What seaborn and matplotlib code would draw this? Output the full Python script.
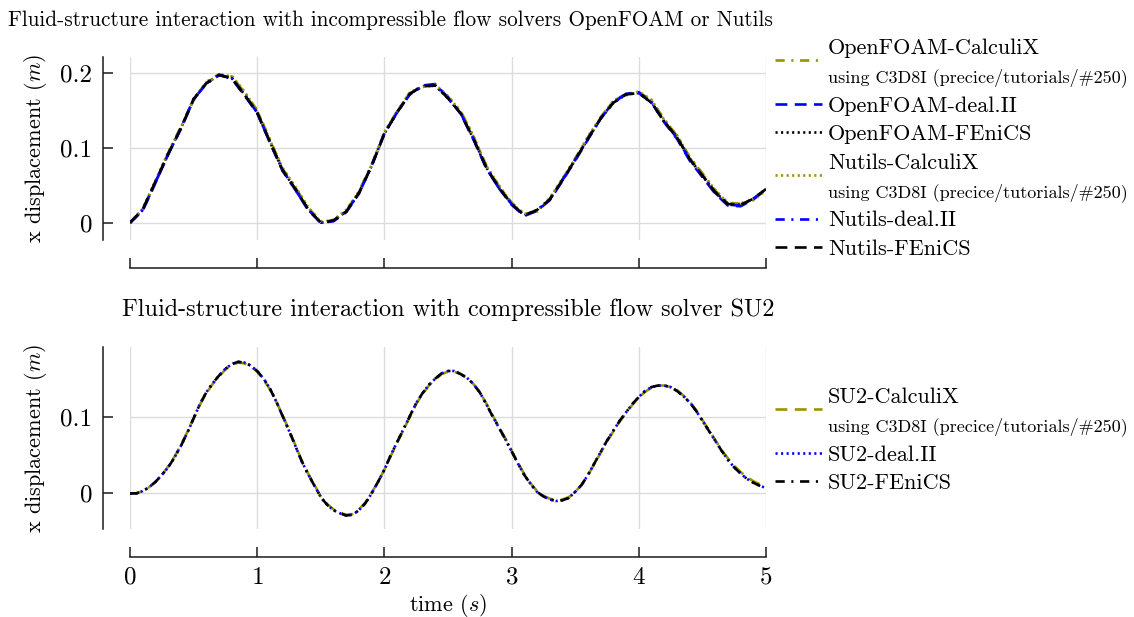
import numpy as np
import pandas as pd
import matplotlib
matplotlib.use("Agg")
import matplotlib.pyplot as plt
import matplotlib.transforms as mtransforms
from matplotlib.lines import Line2D
import seaborn as sns

sns.set_theme(style="ticks")
plt.rcParams['font.family'] = ['cmr10', 'DejaVu Serif']
plt.rcParams['mathtext.fontset'] = 'cm'
plt.rcParams['axes.unicode_minus'] = False
plt.rcParams['axes.formatter.use_mathtext'] = True

# ---------------- data ----------------
time_top = [round(0.1 * i, 2) for i in range(51)]
time_bot = [round(0.05 * i, 2) for i in range(101)]

of_calculix = [0.000, 0.017, 0.054, 0.093, 0.128, 0.163, 0.188, 0.198, 0.195, 0.174, 0.150,
               0.111, 0.072, 0.047, 0.020, 0.002, 0.003, 0.016, 0.042, 0.078, 0.120,
               0.149, 0.173, 0.183, 0.182, 0.168, 0.149, 0.115, 0.077, 0.049, 0.027,
               0.011, 0.016, 0.032, 0.058, 0.086, 0.114, 0.141, 0.162, 0.172, 0.174,
               0.163, 0.138, 0.116, 0.088, 0.066, 0.043, 0.027, 0.025, 0.031, 0.044]
of_dealii = [0.000, 0.016, 0.053, 0.091, 0.125, 0.164, 0.186, 0.197, 0.192, 0.170, 0.146,
             0.107, 0.069, 0.044, 0.017, 0.000, 0.002, 0.014, 0.039, 0.076, 0.119,
             0.148, 0.172, 0.183, 0.185, 0.167, 0.145, 0.111, 0.073, 0.046, 0.024,
             0.009, 0.016, 0.030, 0.056, 0.083, 0.111, 0.139, 0.161, 0.172, 0.174,
             0.161, 0.134, 0.112, 0.083, 0.061, 0.039, 0.023, 0.022, 0.031, 0.045]
of_fenics = [0.000, 0.018, 0.055, 0.092, 0.126, 0.165, 0.186, 0.197, 0.193, 0.171, 0.147,
             0.108, 0.070, 0.045, 0.018, 0.000, 0.003, 0.015, 0.040, 0.076, 0.119,
             0.147, 0.172, 0.182, 0.183, 0.166, 0.146, 0.112, 0.074, 0.047, 0.025,
             0.010, 0.017, 0.031, 0.057, 0.084, 0.112, 0.139, 0.160, 0.171, 0.173,
             0.160, 0.135, 0.114, 0.085, 0.063, 0.041, 0.025, 0.024, 0.032, 0.045]
nu_calculix = [0.000, 0.018, 0.056, 0.094, 0.127, 0.164, 0.187, 0.196, 0.196, 0.175, 0.149,
               0.110, 0.073, 0.048, 0.021, 0.001, 0.004, 0.017, 0.041, 0.077, 0.121,
               0.148, 0.174, 0.181, 0.184, 0.169, 0.148, 0.116, 0.076, 0.050, 0.026,
               0.012, 0.015, 0.033, 0.059, 0.085, 0.115, 0.140, 0.163, 0.170, 0.175,
               0.164, 0.137, 0.117, 0.087, 0.065, 0.044, 0.026, 0.026, 0.030, 0.043]
nu_dealii = [0.000, 0.017, 0.054, 0.091, 0.126, 0.165, 0.185, 0.197, 0.193, 0.170, 0.147,
             0.107, 0.070, 0.044, 0.018, 0.000, 0.003, 0.015, 0.039, 0.076, 0.119,
             0.147, 0.171, 0.182, 0.184, 0.166, 0.146, 0.112, 0.074, 0.046, 0.025,
             0.010, 0.016, 0.031, 0.057, 0.084, 0.112, 0.139, 0.160, 0.172, 0.173,
             0.160, 0.135, 0.113, 0.084, 0.062, 0.040, 0.024, 0.023, 0.032, 0.045]
nu_fenics = [0.000, 0.018, 0.055, 0.092, 0.126, 0.165, 0.186, 0.197, 0.193, 0.171, 0.147,
             0.108, 0.070, 0.045, 0.018, 0.000, 0.003, 0.015, 0.040, 0.076, 0.119,
             0.147, 0.172, 0.182, 0.183, 0.166, 0.146, 0.112, 0.074, 0.047, 0.025,
             0.010, 0.017, 0.031, 0.057, 0.084, 0.112, 0.139, 0.160, 0.171, 0.173,
             0.160, 0.135, 0.114, 0.085, 0.063, 0.041, 0.025, 0.024, 0.032, 0.045]

su2_calculix = [0.000, 0.000, 0.003, 0.008, 0.015, 0.024, 0.035, 0.048, 0.063, 0.080,
                0.098, 0.116, 0.131, 0.143, 0.153, 0.162, 0.168, 0.171, 0.170, 0.166,
                0.159, 0.149, 0.136, 0.120, 0.102, 0.083, 0.063, 0.043, 0.026, 0.011,
                -0.004, -0.014, -0.021, -0.025, -0.028, -0.027, -0.021, -0.012, 0.001, 0.015,
                0.031, 0.049, 0.066, 0.083, 0.100, 0.117, 0.130, 0.141, 0.149, 0.156,
                0.159, 0.159, 0.156, 0.151, 0.143, 0.132, 0.118, 0.102, 0.087, 0.072,
                0.056, 0.040, 0.025, 0.013, 0.003, -0.003, -0.007, -0.009, -0.008, -0.005,
                0.002, 0.011, 0.024, 0.038, 0.053, 0.068, 0.081, 0.094, 0.105, 0.116,
                0.125, 0.133, 0.138, 0.141, 0.141, 0.139, 0.135, 0.128, 0.120, 0.109,
                0.096, 0.083, 0.070, 0.057, 0.046, 0.036, 0.028, 0.021, 0.016, 0.012, 0.008]
su2_dealii = [0.000, 0.000, 0.003, 0.008, 0.015, 0.024, 0.034, 0.047, 0.062, 0.079,
              0.098, 0.117, 0.132, 0.144, 0.154, 0.163, 0.169, 0.172, 0.171, 0.167,
              0.160, 0.150, 0.137, 0.120, 0.101, 0.082, 0.062, 0.042, 0.025, 0.010,
              -0.005, -0.015, -0.022, -0.026, -0.029, -0.028, -0.022, -0.013, 0.000, 0.015,
              0.031, 0.050, 0.067, 0.084, 0.101, 0.118, 0.131, 0.142, 0.150, 0.157,
              0.160, 0.160, 0.156, 0.151, 0.143, 0.132, 0.117, 0.101, 0.086, 0.071,
              0.055, 0.039, 0.024, 0.012, 0.002, -0.004, -0.008, -0.010, -0.009, -0.006,
              0.002, 0.011, 0.024, 0.039, 0.054, 0.069, 0.082, 0.095, 0.106, 0.117,
              0.126, 0.134, 0.139, 0.141, 0.141, 0.139, 0.134, 0.127, 0.119, 0.108,
              0.095, 0.082, 0.069, 0.056, 0.044, 0.034, 0.026, 0.019, 0.014, 0.010, 0.007]
su2_fenics = [0.000, 0.000, 0.003, 0.008, 0.015, 0.024, 0.034, 0.047, 0.062, 0.079,
              0.098, 0.117, 0.132, 0.144, 0.154, 0.163, 0.169, 0.172, 0.171, 0.167,
              0.160, 0.150, 0.137, 0.120, 0.101, 0.082, 0.062, 0.042, 0.025, 0.010,
              -0.005, -0.015, -0.022, -0.026, -0.029, -0.028, -0.022, -0.013, 0.000, 0.015,
              0.031, 0.050, 0.067, 0.084, 0.101, 0.118, 0.131, 0.142, 0.150, 0.157,
              0.160, 0.160, 0.156, 0.151, 0.143, 0.132, 0.117, 0.101, 0.086, 0.071,
              0.055, 0.039, 0.024, 0.012, 0.002, -0.004, -0.008, -0.010, -0.009, -0.006,
              0.002, 0.011, 0.024, 0.039, 0.054, 0.069, 0.082, 0.095, 0.106, 0.117,
              0.126, 0.134, 0.139, 0.141, 0.141, 0.139, 0.134, 0.127, 0.119, 0.108,
              0.095, 0.082, 0.069, 0.056, 0.044, 0.034, 0.026, 0.019, 0.014, 0.010, 0.007]

top_labels = ["OpenFOAM-CalculiX", "OpenFOAM-deal.II", "OpenFOAM-FEniCS",
              "Nutils-CalculiX", "Nutils-deal.II", "Nutils-FEniCS"]
bot_labels = ["SU2-CalculiX", "SU2-deal.II", "SU2-FEniCS"]
note = "using C3D8I (precice/tutorials/#250)"
x_ticks = [0, 1, 2, 3, 4, 5]
top_yticks = [0, 0.1, 0.2]
bot_yticks = [0, 0.1]
top_title = "Fluid-structure interaction with incompressible flow solvers OpenFOAM or Nutils"
bot_title = "Fluid-structure interaction with compressible flow solver SU2"

# ---------------- styles ----------------
OLIVE = "#9a9300"
BLUE = "#0000ff"
BLACK = "#000000"
DASHED = (0, (4.5, 2.8))
DOTTED = (0, (0.8, 1.3))
DASHDOT = (0, (3.5, 2.5, 0.8, 2.5))
LW = 1.9
TXT = "#000000"

top_series = [of_calculix, of_dealii, of_fenics, nu_calculix, nu_dealii, nu_fenics]
top_styles = [(OLIVE, DASHDOT), (BLUE, DASHED), (BLACK, DOTTED),
              (OLIVE, DOTTED), (BLUE, DASHDOT), (BLACK, DASHED)]
bot_series = [su2_calculix, su2_dealii, su2_fenics]
bot_styles = [(OLIVE, DASHED), (BLUE, DOTTED), (BLACK, DASHDOT)]

W, H = 1134, 617
fig = plt.figure(figsize=(W / 100, H / 100), dpi=100)
ax1 = fig.add_axes([130 / W, 1 - 240 / H, 636 / W, 183 / H])
ax2 = fig.add_axes([130 / W, 1 - 529.3 / H, 636 / W, 182 / H])


def draw(ax, t, series, styles):
    lines = []
    for vals, (c, ls) in zip(series, styles):
        df = pd.DataFrame({"t": t, "x": vals})
        sns.lineplot(data=df, x="t", y="x", ax=ax, color=c, linewidth=LW,
                     linestyle=ls, legend=False)
        ln = ax.lines[-1]
        ln.set_dash_capstyle("butt")
        ln.set_solid_joinstyle("round")
        lines.append(ln)
    return lines


def style_axes(ax, ylim, yticks):
    ax.set_xlim(0, 5)
    ax.set_ylim(*ylim)
    ax.set_xticks(x_ticks)
    ax.set_yticks(yticks)
    ax.set_yticklabels([f"{v:g}" for v in yticks])
    ax.grid(True, color="#dcdcdc", linewidth=1.0)
    ax.set_axisbelow(True)
    for s in ["top", "right"]:
        ax.spines[s].set_visible(False)
    for s in ["left", "bottom"]:
        ax.spines[s].set_position(("outward", 19.8))
        ax.spines[s].set_linewidth(1.1)
        ax.spines[s].set_color("#1a1a1a")
    ax.spines["bottom"].set_bounds(0, 5)
    ax.tick_params(direction="in", length=7.2, width=1.1, color="#1a1a1a",
                   labelsize=18, pad=7, labelcolor=TXT)
    ax.tick_params(axis="y", pad=7.5)
    ax.set_ylabel("x displacement ($m$)", fontsize=16, color=TXT)
    ax.yaxis.set_label_coords(-0.128, 0.5)
    ax.set_xlabel("")


top_lines = draw(ax1, time_top, top_series, top_styles)
bot_lines = draw(ax2, time_bot, bot_series, bot_styles)

style_axes(ax1, (-0.023, 0.221), top_yticks)
style_axes(ax2, (-0.047, 0.191), bot_yticks)
ax1.tick_params(labelbottom=False)
ax2.set_xlabel("time ($s$)", fontsize=16, color=TXT, va="top")
ax2.xaxis.set_label_coords(0.5, -0.342)

fig.text(8 / W, 1 - 20 / H, top_title, ha="left", va="center", fontsize=15.3, color=TXT)
fig.text(448 / W, 1 - 310 / H, bot_title, ha="center", va="center", fontsize=17.5, color=TXT)


def make_legend(ax, lines, labels, cx_idx, anchor):
    blank = Line2D([], [], linestyle="none")
    handles, labs = [], []
    for i, (ln, lab) in enumerate(zip(lines, labels)):
        handles.append(ln)
        labs.append(lab)
        if i in cx_idx:
            handles.append(blank)
            labs.append(note)
    leg = ax.legend(handles, labs, loc="upper left", bbox_to_anchor=anchor,
                    frameon=False, fontsize=16, handlelength=2.1, handletextpad=0.28,
                    borderpad=0, borderaxespad=0, labelspacing=0.4)
    for txt in leg.get_texts():
        txt.set_color(TXT)
        if txt.get_text() == note:
            txt.set_fontsize(13)
    shift = mtransforms.ScaledTranslation(0, -0.14, fig.dpi_scale_trans)
    for h, t in zip(leg.legend_handles, leg.get_texts()):
        if t.get_text().endswith("CalculiX"):
            h.set_transform(h.get_transform() + shift)
    return leg


make_legend(ax1, top_lines, top_labels, {0, 3}, (1.0142, 1.101))
make_legend(ax2, bot_lines, bot_labels, {0}, (1.0142, 0.780))

fig.savefig("out.png", dpi=100)
